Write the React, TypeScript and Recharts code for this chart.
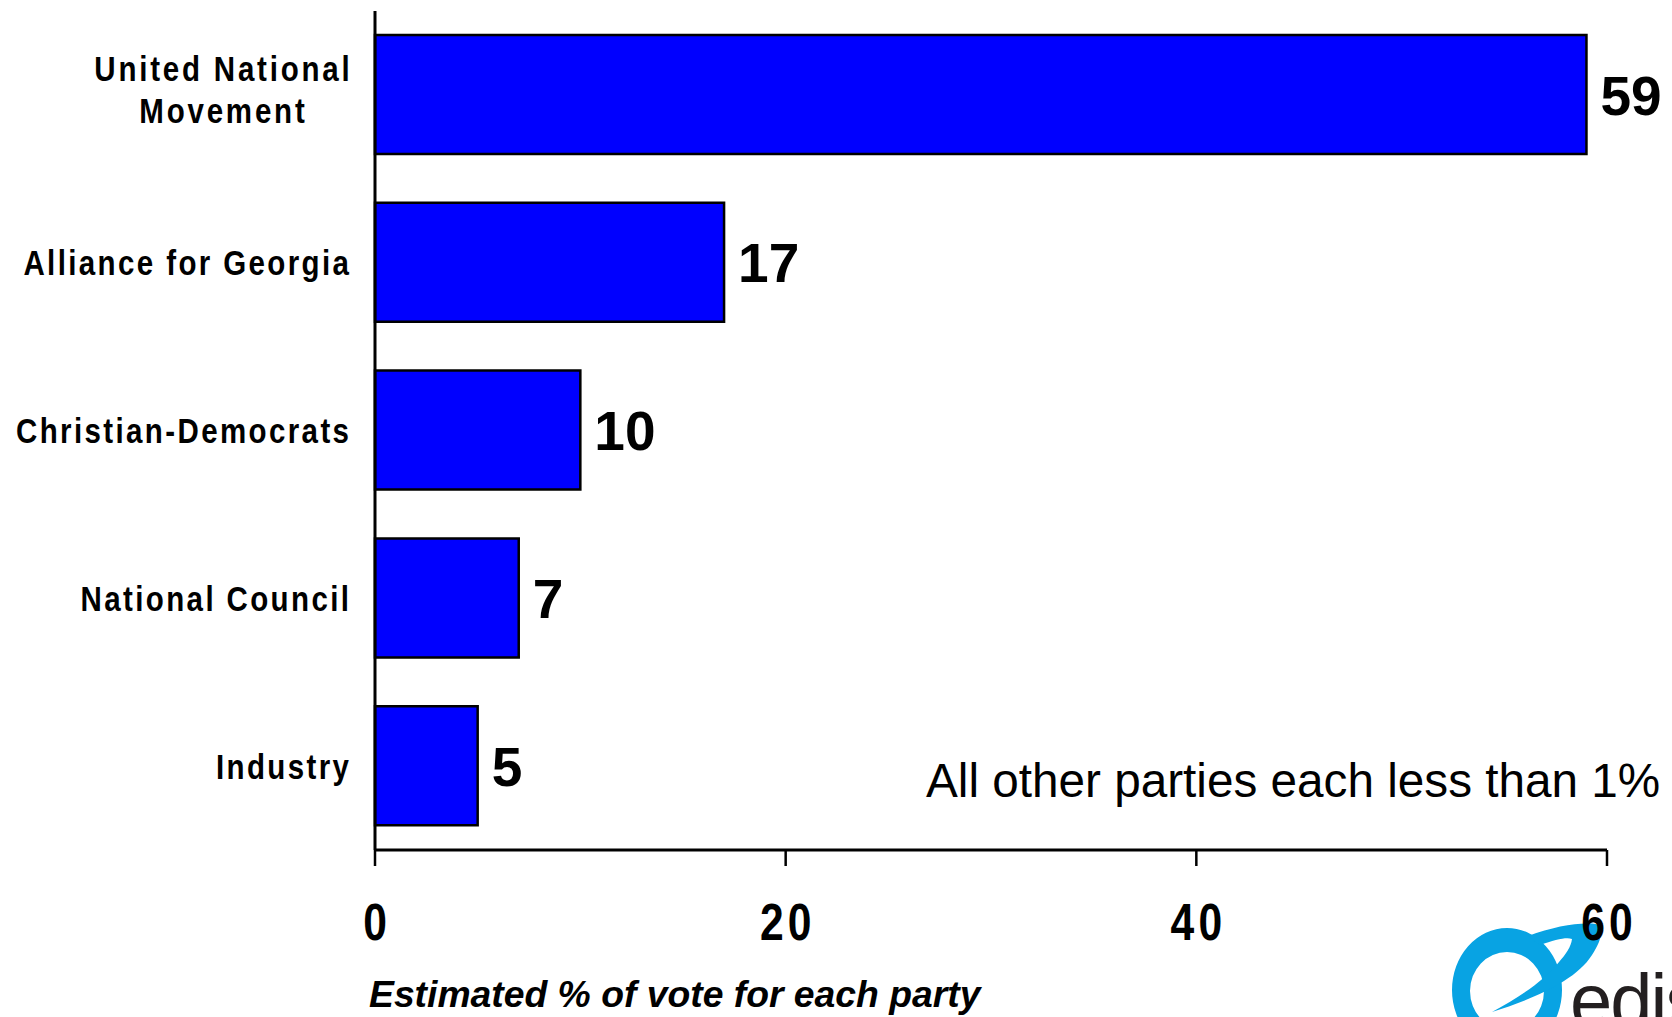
import React from "react";
import { BarChart, Bar, XAxis, YAxis } from "recharts";

const parties = [
  "United National Movement",
  "Alliance for Georgia",
  "Christian-Democrats",
  "National Council",
  "Industry",
];
const partyLabelLines = [
  ["United National", "Movement"],
  ["Alliance for Georgia"],
  ["Christian-Democrats"],
  ["National Council"],
  ["Industry"],
];
const voteShares = [59, 17, 10, 7, 5];
const xTicks = [0, 20, 40, 60];
const axisTitle = "Estimated % of vote for each party";
const note = "All other parties each less than 1%";
const logoText = "edis";

const data = parties.map((p, i) => ({ party: p, value: voteShares[i] }));

const W = 1672;
const H = 1017;
const ARIAL = "'Liberation Sans', Arial, sans-serif";
const NARROW_SCALE = 0.82;

const YTick = (props: any) => {
  const { x, y, payload } = props;
  const idx = parties.indexOf(payload.value);
  const lines = partyLabelLines[idx] || [payload.value];
  const ls = 2.9;
  if (lines.length === 1) {
    return (
      <g transform={`translate(${x},${y}) scale(${NARROW_SCALE},1)`}>
        <text x={ls} y={12.5} textAnchor="end" fontFamily={ARIAL} fontWeight="bold" fontSize={36} letterSpacing={ls} fill="#000">
          {lines[0]}
        </text>
      </g>
    );
  }
  return (
    <g transform={`translate(${x - 127},${y}) scale(${NARROW_SCALE},1)`}>
      <text textAnchor="middle" fontFamily={ARIAL} fontWeight="bold" fontSize={36} letterSpacing={3.4} fill="#000">
        {lines.map((l: string, i: number) => (
          <tspan key={i} x={1.7} y={-14 + i * 42}>
            {l}
          </tspan>
        ))}
      </text>
    </g>
  );
};

const XTick = (props: any) => {
  const { x, y, payload } = props;
  const ls = 5;
  return (
    <g transform={`translate(${x},${y + 72}) scale(${NARROW_SCALE},1)`}>
      <text x={ls / 2} y={0} textAnchor="middle" fontFamily={ARIAL} fontWeight="bold" fontSize={52} letterSpacing={ls} fill="#000">
        {payload.value}
      </text>
    </g>
  );
};

const ValueLabel = (props: any) => {
  const { x, y, width, height, value } = props;
  return (
    <text x={x + width + 14} y={y + height / 2 + 20} textAnchor="start" fontFamily={ARIAL} fontWeight="bold" fontSize={55} fill="#000">
      {value}
    </text>
  );
};

const AxisTitle = (props: any) => {
  const { viewBox } = props;
  return (
    <text x={viewBox.x - 6} y={viewBox.y + 157} textAnchor="start" fontFamily={ARIAL} fontWeight="bold" fontStyle="italic" fontSize={37.3} fill="#000">
      {axisTitle}
    </text>
  );
};

const ringPath =
  "M 1452 990 a 55 62 0 1 0 110 0 a 55 62 0 1 0 -110 0 Z " +
  "M 1470 991 a 37 39 0 1 0 74 0 a 37 39 0 1 0 -74 0 Z";
const swooshPath =
  "M 1492 1012 C 1530 1000, 1575 982, 1592 955 C 1602 940, 1604 928, 1596 924 " +
  "C 1580 922, 1555 926, 1528 936 L 1540 945 C 1555 940, 1566 937, 1572 939 " +
  "C 1571 947, 1566 954, 1559 962 C 1545 980, 1520 997, 1492 1012 Z";

export default function App() {
  return (
    <div style={{ position: "absolute", left: 0, top: 0, width: W, height: H, overflow: "hidden", background: "#fff" }}>
      <svg width={W} height={H} style={{ position: "absolute", left: 0, top: 0 }}>
        <text x={926} y={797} fontFamily={ARIAL} fontSize={47.7} fill="#000">
          {note}
        </text>
        <path d={ringPath} fill="#08A3E3" fillRule="evenodd" />
        <path d={swooshPath} fill="#08A3E3" />
        <text x={1570} y={1027} fontFamily={ARIAL} fontSize={76} letterSpacing={-2} fill="#231F20">
          {logoText}
        </text>
      </svg>
      <div style={{ position: "absolute", left: 0, top: 0 }}>
        <BarChart
          layout="vertical"
          width={W}
          height={H}
          data={data}
          margin={{ top: 11, right: 65, bottom: 0, left: 0 }}
        >
          <XAxis
            type="number"
            dataKey="value"
            domain={[0, 60]}
            ticks={xTicks}
            height={167}
            axisLine={{ stroke: "#000", strokeWidth: 3 }}
            tickLine={{ stroke: "#000", strokeWidth: 2.5 }}
            tickSize={16}
            tick={<XTick />}
            label={<AxisTitle />}
            interval={0}
          />
          <YAxis
            type="category"
            dataKey="party"
            width={375}
            axisLine={{ stroke: "#000", strokeWidth: 3 }}
            tickLine={false}
            tickSize={0}
            tickMargin={26}
            tick={<YTick />}
            interval={0}
          />
          <Bar
            dataKey="value"
            fill="#0000FF"
            stroke="#000"
            strokeWidth={2.5}
            barSize={119}
            isAnimationActive={false}
            label={<ValueLabel />}
          />
        </BarChart>
      </div>
    </div>
  );
}
